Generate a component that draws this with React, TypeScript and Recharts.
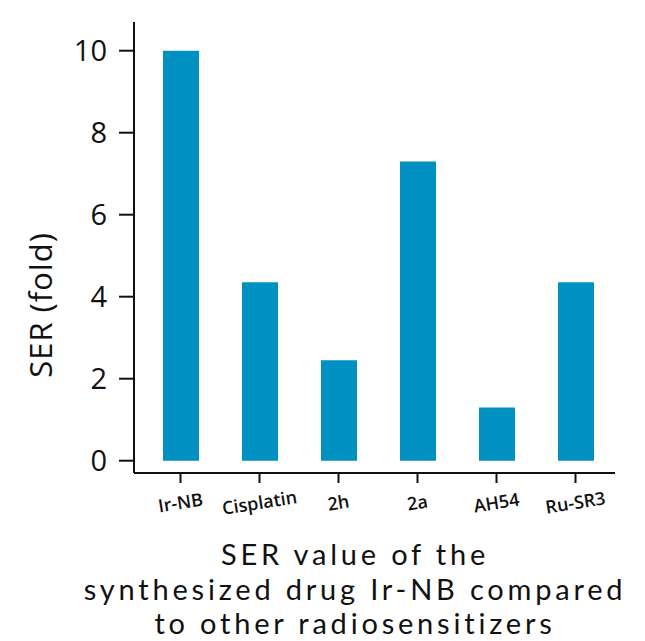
import { BarChart, Bar, XAxis, YAxis } from 'recharts'

// SER (fold) per radiosensitizer
const DRUGS = ['Ir-NB', 'Cisplatin', '2h', '2a', 'AH54', 'Ru-SR3']
const SER_VALUES = [10, 4.35, 2.45, 7.3, 1.3, 4.35]
const Y_TICKS = [0, 2, 4, 6, 8, 10]
const TITLE_LINES = ['SER value of the', 'synthesized drug Ir-NB compared', 'to other radiosensitizers']

const data = DRUGS.map((drug, i) => ({ drug, ser: SER_VALUES[i] }))

const FONT = '"Open Sans", "Noto Sans", sans-serif'

function DrugTick({ x, y, payload }: any) {
  return (
    <text
      x={x}
      y={y + 24}
      transform={`rotate(-9 ${x} ${y + 18})`}
      textAnchor="middle"
      fontFamily={FONT}
      fontSize={18}
      fontWeight={600}
      fill="#111"
    >
      {payload.value}
    </text>
  )
}

export default function App() {
  return (
    <div style={{ position: 'absolute', left: 0, top: 0, width: 645, height: 641, background: '#fff', fontFamily: FONT }}>
      <BarChart
        width={645}
        height={641}
        data={data}
        margin={{ top: 22, right: 30, bottom: 128, left: 0 }}
      >
        <XAxis
          dataKey="drug"
          padding={{ left: 7, right: 0 }}
          axisLine={{ stroke: '#111', strokeWidth: 2 }}
          tickLine={{ stroke: '#111', strokeWidth: 2 }}
          tickSize={10}
          tick={<DrugTick />}
          interval={0}
          height={40}
        />
        <YAxis
          width={134}
          domain={[-0.3, 10.7]}
          ticks={Y_TICKS}
          allowDataOverflow
          axisLine={{ stroke: '#111', strokeWidth: 2 }}
          tickLine={{ stroke: '#111', strokeWidth: 2 }}
          tickSize={15}
          tickMargin={12}
          tick={{ fill: '#111', fontSize: 29, fontFamily: FONT }}
        />
        <Bar dataKey="ser" fill="#0090c1" barSize={36} isAnimationActive={false} />
      </BarChart>
      <div
        style={{
          position: 'absolute',
          left: 40,
          top: 305,
          transform: 'translate(-50%, -50%) rotate(-90deg)',
          whiteSpace: 'nowrap',
          fontSize: 31,
          letterSpacing: 1,
          color: '#111',
        }}
      >
        SER (fold)
      </div>
      <div
        style={{
          position: 'absolute',
          left: 50,
          width: 610,
          top: 537,
          textAlign: 'center',
          fontFamily: 'Lato, sans-serif',
          fontSize: 29,
          letterSpacing: 3.8,
          lineHeight: '34.5px',
          color: '#111',
        }}
      >
        {TITLE_LINES.map((line) => (
          <div key={line}>{line}</div>
        ))}
      </div>
    </div>
  )
}
